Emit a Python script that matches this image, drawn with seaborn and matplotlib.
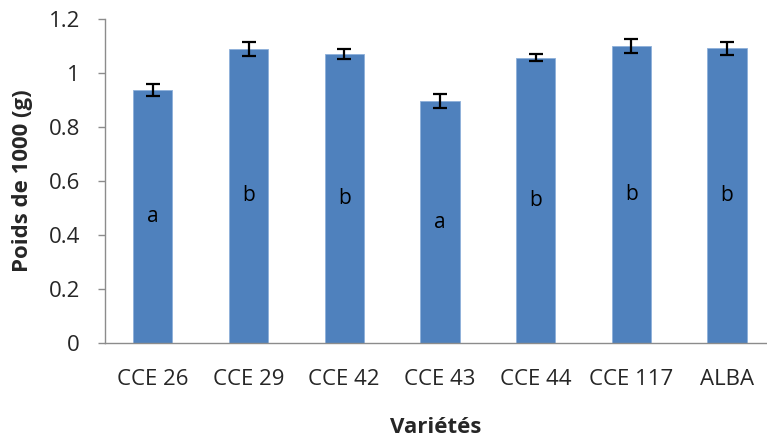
import matplotlib
matplotlib.use("Agg")
import matplotlib.pyplot as plt
import seaborn as sns
import pandas as pd

categories = ["CCE 26", "CCE 29", "CCE 42", "CCE 43", "CCE 44", "CCE 117", "ALBA"]
values = [0.937, 1.089, 1.070, 0.896, 1.057, 1.099, 1.091]
errors = [0.022, 0.027, 0.018, 0.026, 0.013, 0.026, 0.023]
letters = ["a", "b", "b", "a", "b", "b", "b"]
yticks = [0, 0.2, 0.4, 0.6, 0.8, 1, 1.2]
ytick_labels = ["0", "0.2", "0.4", "0.6", "0.8", "1", "1.2"]

df = pd.DataFrame({"cat": categories, "val": values})

sns.set_style("white")
plt.rcParams["font.family"] = ["Open Sans", "DejaVu Sans"]

fig = plt.figure(figsize=(7.67, 4.43), dpi=100)
ax = fig.add_axes([105 / 767, 1 - 343 / 443, (767 - 105) / 767, (343 - 19) / 443])

sns.barplot(data=df, x="cat", y="val", color="#4F81BD", saturation=1, width=0.41,
            ax=ax, errorbar=None, edgecolor="#8EB0DA", linewidth=0.6)
ax.errorbar(range(len(categories)), values, yerr=errors, fmt="none", ecolor="black",
            elinewidth=1.6, capsize=5, capthick=1.6, zorder=5)

for i, (v, t) in enumerate(zip(values, letters)):
    ax.text(i, v / 2, t, ha="center", va="center", fontsize=15, color="black")

ax.set_ylim(0, 1.2)
ax.set_xlim(-0.5, -0.5 + 662 / 95.7)
ax.set_yticks(yticks)
ax.set_yticklabels(ytick_labels, fontsize=16)
ax.tick_params(axis="x", length=0, labelsize=16, pad=19)
ax.tick_params(axis="y", left=True, length=5, width=1, color="#8C8C8C", labelsize=16, pad=13)

for s in ["top", "right"]:
    ax.spines[s].set_visible(False)
for s in ["left", "bottom"]:
    ax.spines[s].set_color("#8C8C8C")
    ax.spines[s].set_linewidth(1)

ax.set_xlabel("Variétés", fontsize=16, fontweight="bold", labelpad=19)
ax.set_ylabel("Poids de 1000 (g)", fontsize=16, fontweight="bold", labelpad=11)

fig.savefig("out.png", dpi=100)
